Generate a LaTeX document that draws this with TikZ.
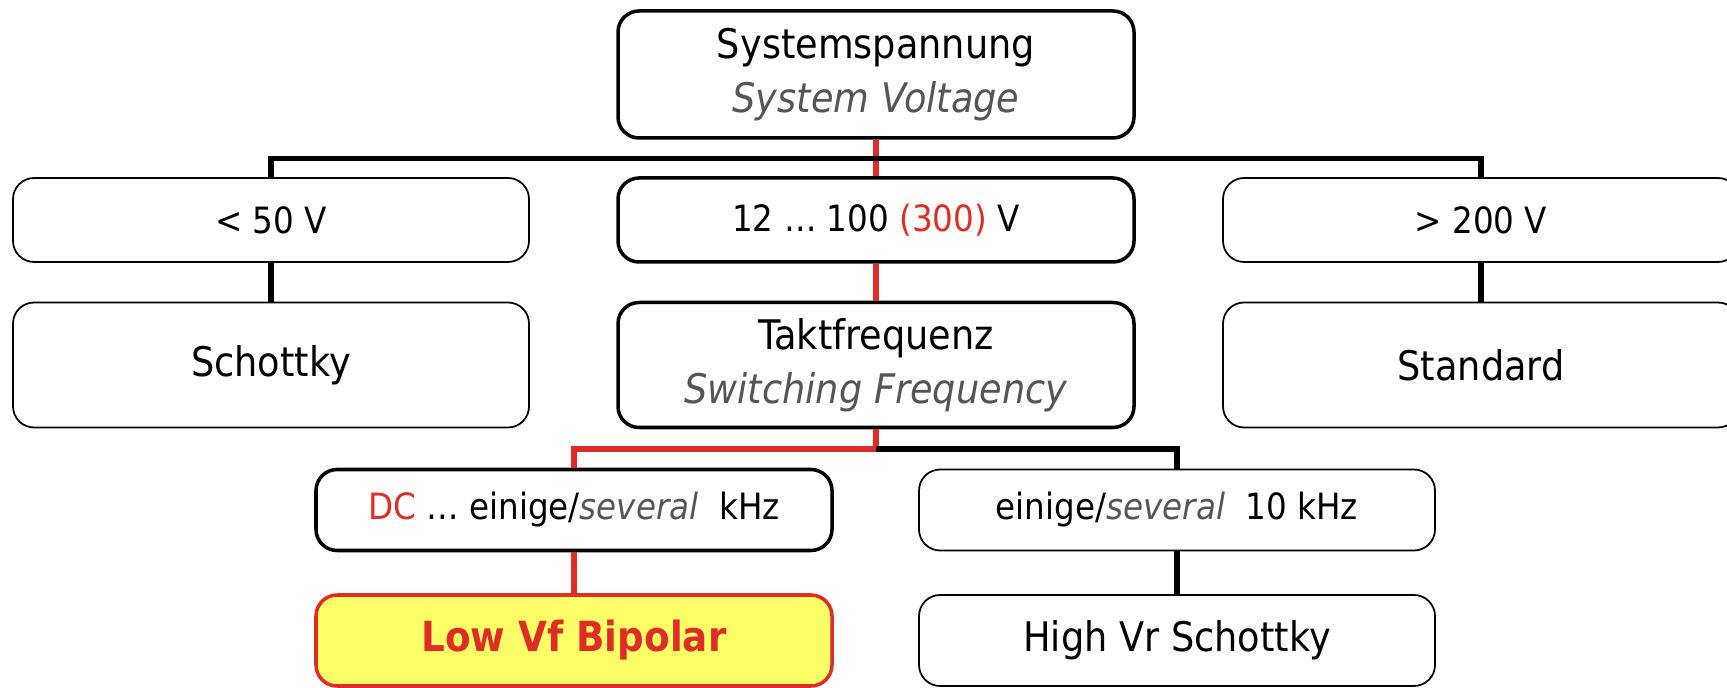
\documentclass[tikz,border=0pt]{standalone}
\usepackage{fontspec}
\setmainfont{DejaVu Sans}[FakeStretch=0.9]
\usetikzlibrary{positioning}
\definecolor{hlred}{RGB}{222,45,38}
\definecolor{engrey}{RGB}{85,85,85}
\definecolor{hlyellow}{RGB}{255,255,102}
\newcommand{\engl}[1]{\textcolor{engrey}{\textit{#1}}}
\tikzset{
  box/.style={draw,rounded corners=6pt,line width=0.5pt,minimum width=5.16cm,
    align=center,inner sep=0pt,font=\fontsize{10.3}{12}\selectfont},
  lowbox/.style={box,minimum height=0.84cm},          % voltage / frequency range
  tallbox/.style={box,minimum height=1.25cm,font=\fontsize{11.6}{15.5}\selectfont},
  selbox/.style={line width=1pt},                     % box on the chosen path
  conn/.style={line width=1.6pt},
  selconn/.style={line width=1.6pt,draw=hlred},       % chosen path
}
\begin{document}
\begin{tikzpicture}
  \useasboundingbox (0,0) rectangle (17.27,-6.88);
  % question: system voltage
  \node[tallbox,selbox,minimum height=1.27cm] (sys) at (8.76,-0.745)
    {Systemspannung\\\engl{System Voltage}};
  % voltage ranges
  \node[lowbox] (lowv) at (2.71,-2.20) {< 50 V};
  \node[lowbox,selbox] (midv) at (8.76,-2.20) {12 … 100 \textcolor{hlred}{(300)} V};
  \node[lowbox] (highv) at (14.81,-2.20) {> 200 V};
  \node[tallbox] (schottky) at (2.71,-3.65) {Schottky};
  \node[tallbox,selbox] (takt) at (8.76,-3.65)
    {Taktfrequenz\\\engl{Switching Frequency}};
  \node[tallbox] (standard) at (14.81,-3.65) {Standard};
  % frequency ranges
  \node[lowbox,selbox,minimum height=0.81cm] (dcf) at (5.74,-5.10)
    {\textcolor{hlred}{DC} … einige/\engl{several}~\ kHz};
  \node[lowbox,minimum height=0.81cm] (tenf) at (11.77,-5.10)
    {einige/\engl{several}~\ 10 kHz};
  \node[tallbox,minimum height=0.91cm,draw=hlred,line width=1pt,fill=hlyellow,
    font=\fontsize{11.8}{14}\selectfont\bfseries\color{hlred}] (bipolar) at (5.74,-6.405)
    {Low Vf Bipolar};
  \node[tallbox,minimum height=0.91cm] (hvschottky) at (11.77,-6.405) {High Vr Schottky};
  % tree
  \coordinate (split) at (8.76,-1.585);
  \coordinate (fork) at (8.76,-4.49);
  \draw[selconn] (sys.south) -- (midv.north);
  \draw[selconn] (midv.south) -- (takt.north);
  \draw[selconn] (takt.south) -- (fork) -| (dcf.north);
  \draw[selconn] (dcf.south) -- (bipolar.north);
  \draw[conn] (split) -| (lowv.north);
  \draw[conn] (split) -| (highv.north);
  \draw[conn] (lowv.south) -- (schottky.north);
  \draw[conn] (highv.south) -- (standard.north);
  \draw[conn] (fork) -| (tenf.north);
  \draw[conn] (tenf.south) -- (hvschottky.north);
\end{tikzpicture}
\end{document}
